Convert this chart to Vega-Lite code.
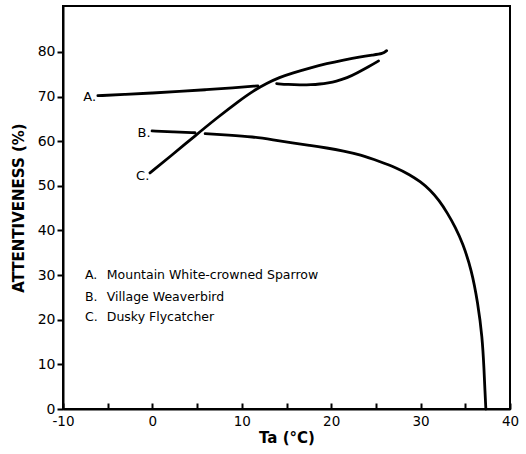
{
  "$schema": "https://vega.github.io/schema/vega-lite/v6.json",
  "width": 447,
  "height": 403,
  "autosize": {"type": "none"},
  "padding": {"left": 63, "top": 6, "right": 16, "bottom": 45},
  "background": "white",
  "config": {
    "view": {"stroke": "black", "strokeWidth": 2},
    "font": "DejaVu Sans",
    "axis": {
      "grid": false,
      "domainColor": "black",
      "domainWidth": 2,
      "tickColor": "black",
      "tickWidth": 2,
      "labelColor": "black",
      "titleColor": "black",
      "labelFont": "DejaVu Sans",
      "titleFont": "DejaVu Sans",
      "labelFontSize": 14,
      "titleFontSize": 15,
      "titleFontWeight": "bold"
    }
  },
  "datasets": {
    "curves": [
      {"species": "A", "seg": "A1", "t": -6.1, "v": 70.2},
      {"species": "A", "seg": "A1", "t": -3, "v": 70.5},
      {"species": "A", "seg": "A1", "t": 0, "v": 70.8},
      {"species": "A", "seg": "A1", "t": 3, "v": 71.15},
      {"species": "A", "seg": "A1", "t": 6, "v": 71.55},
      {"species": "A", "seg": "A1", "t": 9, "v": 71.95},
      {"species": "A", "seg": "A1", "t": 11.8, "v": 72.4},
      {"species": "A", "seg": "A2", "t": 13.9, "v": 72.9},
      {"species": "A", "seg": "A2", "t": 15.2, "v": 72.7},
      {"species": "A", "seg": "A2", "t": 16.5, "v": 72.6},
      {"species": "A", "seg": "A2", "t": 17.8, "v": 72.65},
      {"species": "A", "seg": "A2", "t": 18.7, "v": 72.8},
      {"species": "A", "seg": "A2", "t": 19.7, "v": 73.1},
      {"species": "A", "seg": "A2", "t": 20.5, "v": 73.4},
      {"species": "A", "seg": "A2", "t": 21.8, "v": 74.2},
      {"species": "A", "seg": "A2", "t": 22.9, "v": 75.3},
      {"species": "A", "seg": "A2", "t": 24.2, "v": 76.7},
      {"species": "A", "seg": "A2", "t": 25.3, "v": 78.0},
      {"species": "B", "seg": "B1", "t": -0.04, "v": 62.3},
      {"species": "B", "seg": "B1", "t": 2.4, "v": 62.1},
      {"species": "B", "seg": "B1", "t": 4.77, "v": 61.9},
      {"species": "B", "seg": "B2", "t": 5.9, "v": 61.7},
      {"species": "B", "seg": "B2", "t": 8.5, "v": 61.4},
      {"species": "B", "seg": "B2", "t": 11.25, "v": 61.0},
      {"species": "B", "seg": "B2", "t": 13.5, "v": 60.3},
      {"species": "B", "seg": "B2", "t": 15.7, "v": 59.6},
      {"species": "B", "seg": "B2", "t": 17.6, "v": 59.1},
      {"species": "B", "seg": "B2", "t": 19.5, "v": 58.5},
      {"species": "B", "seg": "B2", "t": 21.4, "v": 57.8},
      {"species": "B", "seg": "B2", "t": 23.2, "v": 57.0},
      {"species": "B", "seg": "B2", "t": 25.5, "v": 55.4},
      {"species": "B", "seg": "B2", "t": 27.2, "v": 54.1},
      {"species": "B", "seg": "B2", "t": 28.8, "v": 52.5},
      {"species": "B", "seg": "B2", "t": 30.0, "v": 50.9},
      {"species": "B", "seg": "B2", "t": 31.05, "v": 49.1},
      {"species": "B", "seg": "B2", "t": 32.1, "v": 46.7},
      {"species": "B", "seg": "B2", "t": 33.0, "v": 43.9},
      {"species": "B", "seg": "B2", "t": 33.9, "v": 40.7},
      {"species": "B", "seg": "B2", "t": 34.7, "v": 37.2},
      {"species": "B", "seg": "B2", "t": 35.7, "v": 31.2},
      {"species": "B", "seg": "B2", "t": 36.4, "v": 23.8},
      {"species": "B", "seg": "B2", "t": 36.9, "v": 16.1},
      {"species": "B", "seg": "B2", "t": 37.1, "v": 8.7},
      {"species": "B", "seg": "B2", "t": 37.2, "v": 4},
      {"species": "B", "seg": "B2", "t": 37.3, "v": 0},
      {"species": "C", "seg": "C1", "t": -0.27, "v": 52.9},
      {"species": "C", "seg": "C1", "t": 2, "v": 56.6},
      {"species": "C", "seg": "C1", "t": 4.77, "v": 61.2},
      {"species": "C", "seg": "C1", "t": 7.2, "v": 65.2},
      {"species": "C", "seg": "C1", "t": 9.8, "v": 69.2},
      {"species": "C", "seg": "C1", "t": 11.3, "v": 71.3},
      {"species": "C", "seg": "C1", "t": 12.8, "v": 73.0},
      {"species": "C", "seg": "C1", "t": 14.2, "v": 74.3},
      {"species": "C", "seg": "C1", "t": 15.7, "v": 75.3},
      {"species": "C", "seg": "C1", "t": 17.6, "v": 76.4},
      {"species": "C", "seg": "C1", "t": 19.5, "v": 77.4},
      {"species": "C", "seg": "C1", "t": 21.4, "v": 78.2},
      {"species": "C", "seg": "C1", "t": 23.2, "v": 78.9},
      {"species": "C", "seg": "C1", "t": 24.6, "v": 79.3},
      {"species": "C", "seg": "C1", "t": 25.8, "v": 79.6},
      {"species": "C", "seg": "C1", "t": 26.2, "v": 80.3}
    ],
    "tags": [
      {"label": "A.", "t": -6.3, "v": 70.0},
      {"label": "B.", "t": -0.2, "v": 61.9},
      {"label": "C.", "t": -0.35, "v": 52.2}
    ],
    "legend": [
      {"letter": "A.", "name": "Mountain White-crowned Sparrow", "v": 30.0},
      {"letter": "B.", "name": "Village Weaverbird", "v": 25.2},
      {"letter": "C.", "name": "Dusky Flycatcher", "v": 20.7}
    ]
  },
  "layer": [
    {
      "data": {"name": "curves"},
      "mark": {"type": "line", "interpolate": "basis", "color": "black", "strokeWidth": 2.8, "strokeCap": "round"},
      "encoding": {
        "x": {
          "field": "t", "type": "quantitative",
          "scale": {"domain": [-10, 40], "nice": false},
          "axis": {
            "title": "Ta (°C)",
            "values": [-10, -5, 0, 5, 10, 15, 20, 25, 30, 35, 40],
            "labelExpr": "datum.value % 10 === 0 ? toString(datum.value) : ''",
            "tickSize": -6,
            "labelPadding": 11,
            "labelFontSize": 13.5,
            "labelFlush": false,
            "titlePadding": 3
          }
        },
        "y": {
          "field": "v", "type": "quantitative",
          "scale": {"domain": [0, 90.3], "nice": false},
          "axis": {
            "title": "ATTENTIVENESS (%)",
            "values": [0, 10, 20, 30, 40, 50, 60, 70, 80],
            "tickSize": 6,
            "labelPadding": 2,
            "labelFlush": false,
            "titlePadding": 11
          }
        },
        "detail": {"field": "seg"},
        "order": {"field": "t", "type": "quantitative"}
      }
    },
    {
      "data": {"name": "tags"},
      "mark": {"type": "text", "align": "right", "baseline": "middle", "fontSize": 13, "color": "black"},
      "encoding": {
        "x": {"field": "t", "type": "quantitative"},
        "y": {"field": "v", "type": "quantitative"},
        "text": {"field": "label"}
      }
    },
    {
      "data": {"name": "legend"},
      "mark": {"type": "text", "align": "left", "baseline": "middle", "fontSize": 12.5, "color": "black"},
      "encoding": {
        "x": {"datum": -7.55},
        "y": {"field": "v", "type": "quantitative"},
        "text": {"field": "letter"}
      }
    },
    {
      "data": {"name": "legend"},
      "mark": {"type": "text", "align": "left", "baseline": "middle", "fontSize": 12.5, "color": "black"},
      "encoding": {
        "x": {"datum": -5.1},
        "y": {"field": "v", "type": "quantitative"},
        "text": {"field": "name"}
      }
    }
  ]
}
